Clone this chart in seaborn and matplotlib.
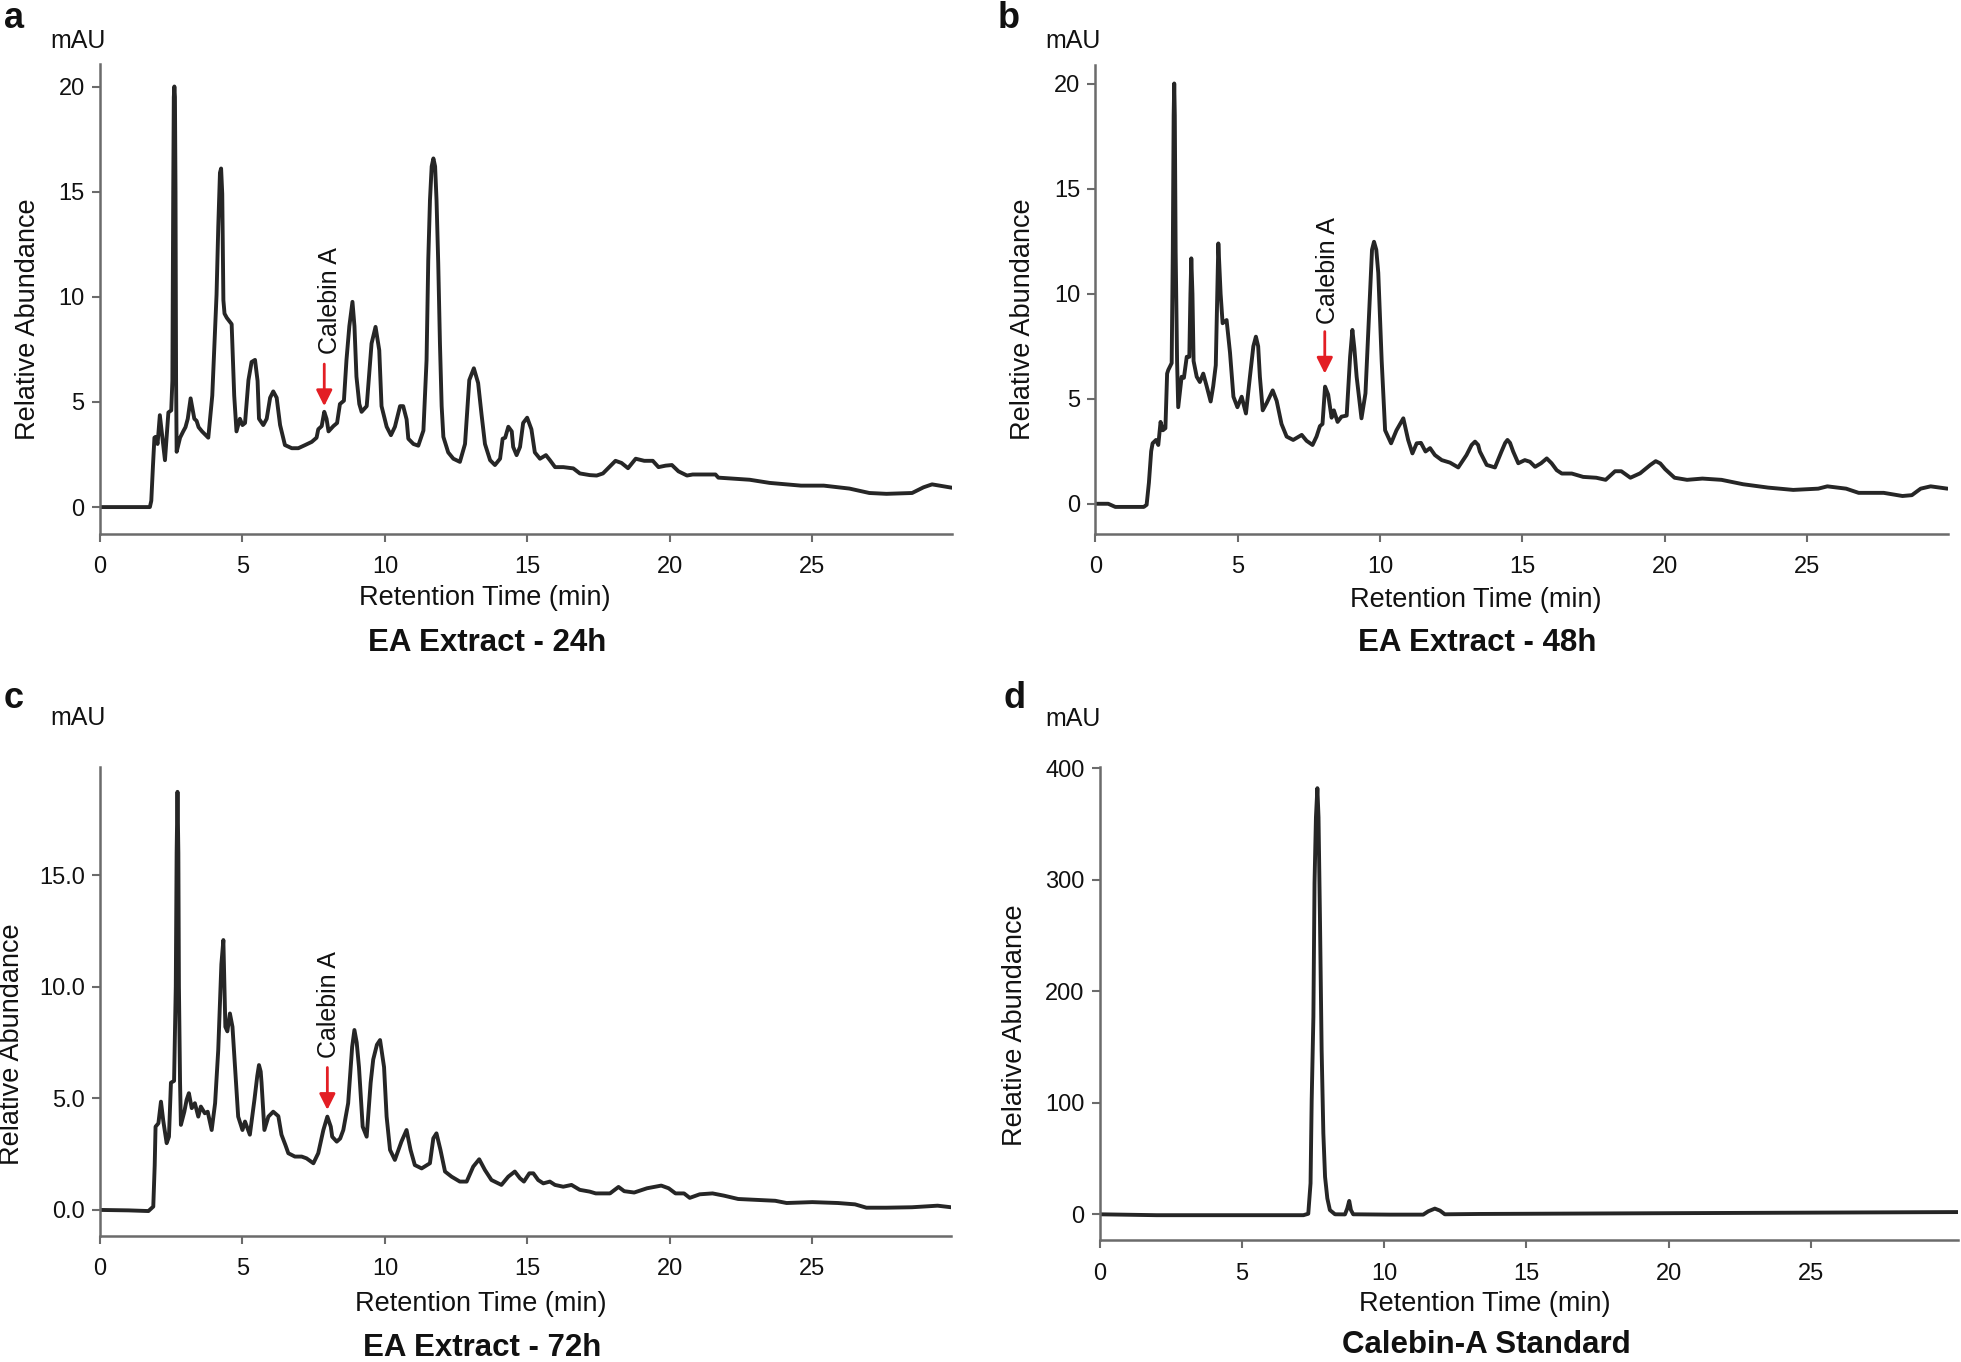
import matplotlib
matplotlib.use("Agg")
import matplotlib.pyplot as plt
import seaborn as sns
import pandas as pd

# ---------------- data ----------------
A_TIME = [0.0, 1.75, 1.80, 1.86, 1.91, 1.95, 2.02, 2.10, 2.28, 2.40, 2.50, 2.54, 2.57, 2.59, 2.61, 2.63,
          2.65, 2.67, 2.69, 2.81, 2.92, 3.00, 3.08, 3.18, 3.31, 3.39, 3.46, 3.58, 3.80, 3.94, 4.02,
          4.09, 4.15, 4.21, 4.25, 4.29, 4.33, 4.37, 4.45, 4.62, 4.71, 4.79, 4.91, 5.00, 5.09, 5.21,
          5.32, 5.44, 5.53, 5.58, 5.73, 5.85, 5.97, 6.08, 6.20, 6.32, 6.49, 6.73, 6.96, 7.20, 7.43,
          7.60, 7.66, 7.78, 7.87, 7.95, 8.02, 8.19, 8.32, 8.42, 8.56, 8.65, 8.75, 8.86, 8.93, 9.00,
          9.10, 9.18, 9.36, 9.53, 9.67, 9.80, 9.88, 10.06, 10.21, 10.35, 10.53, 10.64, 10.76, 10.82,
          11.00, 11.17, 11.35, 11.46, 11.52, 11.58, 11.64, 11.70, 11.76, 11.81, 11.87, 11.93, 11.99,
          12.05, 12.22, 12.40, 12.63, 12.81, 12.96, 13.12, 13.27, 13.39, 13.51, 13.69, 13.86, 14.04,
          14.13, 14.22, 14.33, 14.45, 14.50, 14.62, 14.74, 14.85, 14.99, 15.14, 15.26, 15.44, 15.65,
          15.79, 15.97, 16.26, 16.61, 16.84, 17.19, 17.43, 17.65, 17.87, 18.09, 18.30, 18.53, 18.80,
          19.10, 19.40, 19.60, 19.85, 20.07, 20.30, 20.60, 20.80, 21.60, 21.70, 22.80, 23.50, 24.60,
          25.40, 26.30, 27.00, 27.60, 28.50, 28.90, 29.20, 29.90]
A_ABUND = [0.0, 0.0, 0.3, 2.0, 3.3, 3.34, 3.0, 4.37, 2.23, 4.5, 4.6, 6.0, 15.0, 19.5, 20.0, 19.5,
           15.0, 6.0, 2.63, 3.3, 3.6, 3.8, 4.2, 5.17, 4.2, 4.1, 3.8, 3.6, 3.3, 5.3, 7.8,
           10.1, 13.3, 15.9, 16.1, 14.9, 9.84, 9.2, 9.0, 8.7, 5.3, 3.6, 4.2, 3.9, 4.0, 6.04,
           6.9, 7.0, 6.0, 4.2, 3.9, 4.2, 5.2, 5.5, 5.2, 3.9, 2.95, 2.8, 2.8, 2.95, 3.1,
           3.3, 3.7, 3.85, 4.53, 4.2, 3.6, 3.85, 4.0, 4.9, 5.06, 7.0, 8.6, 9.76, 8.6, 6.2,
           4.9, 4.53, 4.8, 7.78, 8.57, 7.46, 4.8, 3.82, 3.42, 3.82, 4.8, 4.8, 4.17, 3.25,
           3.0, 2.92, 3.64, 6.98, 11.74, 14.6, 16.2, 16.58, 16.2, 14.6, 11.6, 7.78, 4.8,
           3.34, 2.6, 2.3, 2.15, 3.0, 6.04, 6.6, 5.9, 4.4, 3.0, 2.23, 2.0, 2.3,
           3.25, 3.3, 3.82, 3.6, 2.86, 2.47, 2.86, 4.0, 4.25, 3.7, 2.6, 2.3, 2.47,
           2.23, 1.9, 1.9, 1.84, 1.6, 1.52, 1.5, 1.6, 1.9, 2.2, 2.1, 1.85, 2.3,
           2.2, 2.2, 1.9, 1.97, 2.0, 1.7, 1.5, 1.55, 1.55, 1.4, 1.3, 1.15, 1.02,
           1.02, 0.88, 0.67, 0.63, 0.67, 0.94, 1.08, 0.92]

B_TIME = [0.0, 0.45, 0.70, 1.70, 1.80, 1.88, 1.96, 2.01, 2.13, 2.21, 2.29, 2.37, 2.46, 2.52, 2.56,
          2.68, 2.72, 2.75, 2.77, 2.79, 2.82, 2.87, 2.91, 3.03, 3.11, 3.21, 3.30, 3.34, 3.37, 3.41,
          3.45, 3.56, 3.67, 3.79, 3.91, 4.05, 4.14, 4.23, 4.29, 4.32, 4.36, 4.40, 4.47, 4.61, 4.73,
          4.85, 4.99, 5.14, 5.29, 5.43, 5.55, 5.64, 5.72, 5.78, 5.88, 6.02, 6.23, 6.37, 6.54, 6.72,
          6.95, 7.25, 7.42, 7.63, 7.77, 7.89, 7.98, 8.07, 8.18, 8.30, 8.38, 8.51, 8.65, 8.83, 8.95,
          9.03, 9.10, 9.18, 9.35, 9.49, 9.65, 9.72, 9.79, 9.87, 9.94, 10.06, 10.18, 10.39, 10.58,
          10.82, 10.99, 11.14, 11.29, 11.44, 11.60, 11.76, 11.93, 12.17, 12.46, 12.75, 13.04, 13.22,
          13.34, 13.45, 13.51, 13.75, 14.04, 14.27, 14.40, 14.48, 14.57, 14.68, 14.86, 15.09, 15.27,
          15.45, 15.66, 15.86, 16.03, 16.21, 16.39, 16.74, 17.14, 17.60, 17.93, 18.26, 18.48, 18.80,
          19.14, 19.50, 19.69, 19.85, 20.02, 20.35, 20.79, 21.33, 22.00, 22.76, 23.64, 24.52, 25.40,
          25.72, 26.38, 26.82, 27.70, 28.36, 28.69, 29.00, 29.35, 29.94]
B_ABUND = [0.0, 0.0, -0.15, -0.15, -0.05, 1.0, 2.5, 2.88, 3.04, 2.8, 3.9, 3.5, 3.6, 6.2, 6.37,
           6.7, 12.0, 18.5, 20.02, 18.5, 12.0, 6.8, 4.6, 6.05, 6.0, 7.0, 7.0, 10.0, 11.69, 10.0,
           6.8, 6.05, 5.8, 6.2, 5.6, 4.87, 5.6, 6.6, 10.5, 12.4, 11.2, 10.0, 8.6, 8.75, 7.2,
           5.1, 4.6, 5.1, 4.3, 6.05, 7.5, 7.96, 7.5, 6.05, 4.45, 4.8, 5.4, 4.9, 3.8, 3.2,
           3.04, 3.28, 3.0, 2.8, 3.2, 3.7, 3.8, 5.58, 5.2, 4.1, 4.45, 3.9, 4.15, 4.2, 7.0,
           8.28, 7.4, 6.05, 4.07, 5.26, 10.0, 12.1, 12.48, 12.1, 11.0, 6.8, 3.5, 2.88, 3.5,
           4.07, 3.04, 2.4, 2.88, 2.9, 2.49, 2.65, 2.32, 2.08, 1.96, 1.73, 2.32, 2.8,
           2.96, 2.8, 2.49, 1.85, 1.73, 2.49, 2.9, 3.04, 2.9, 2.49, 1.93, 2.08, 2.0,
           1.76, 1.93, 2.16, 1.93, 1.6, 1.44, 1.44, 1.28, 1.24, 1.14, 1.55, 1.55, 1.24,
           1.45, 1.85, 2.03, 1.92, 1.65, 1.24, 1.14, 1.2, 1.14, 0.93, 0.77, 0.66, 0.72,
           0.83, 0.72, 0.52, 0.52, 0.37, 0.41, 0.72, 0.83, 0.72]

C_TIME = [0.0, 1.00, 1.70, 1.87, 1.92, 1.95, 2.05, 2.14, 2.22, 2.34, 2.42, 2.49, 2.60, 2.66, 2.69,
          2.72, 2.75, 2.77, 2.81, 2.84, 2.96, 3.04, 3.12, 3.22, 3.33, 3.45, 3.54, 3.68, 3.78, 3.92,
          4.04, 4.15, 4.26, 4.33, 4.40, 4.47, 4.56, 4.65, 4.74, 4.85, 5.00, 5.09, 5.26, 5.42, 5.52,
          5.58, 5.64, 5.67, 5.77, 5.91, 6.08, 6.26, 6.37, 6.51, 6.61, 6.84, 7.08, 7.25, 7.49, 7.66,
          7.84, 7.98, 8.10, 8.15, 8.31, 8.43, 8.54, 8.71, 8.85, 8.93, 9.01, 9.09, 9.22, 9.36, 9.50,
          9.59, 9.72, 9.83, 9.97, 10.06, 10.18, 10.35, 10.58, 10.76, 10.90, 11.05, 11.29, 11.58,
          11.70, 11.81, 11.95, 12.11, 12.34, 12.63, 12.87, 13.10, 13.31, 13.51, 13.74, 14.09, 14.33,
          14.56, 14.74, 14.88, 15.07, 15.21, 15.38, 15.56, 15.79, 15.97, 16.26, 16.55, 16.84, 17.19,
          17.40, 17.90, 18.20, 18.40, 18.75, 19.20, 19.70, 19.96, 20.20, 20.50, 20.70, 21.05, 21.50,
          21.90, 22.40, 23.70, 24.10, 25.00, 25.90, 26.50, 26.90, 27.60, 28.50, 29.40, 29.87]
C_ABUND = [0.0, -0.02, -0.05, 0.15, 2.0, 3.73, 3.88, 4.85, 4.0, 2.99, 3.28, 5.7, 5.78, 10.0, 16.0,
           18.73, 16.0, 10.0, 5.7, 3.81, 4.4, 4.93, 5.23, 4.56, 4.78, 4.18, 4.63, 4.33, 4.4, 3.58,
           4.78, 7.16, 11.0, 12.09, 8.2, 8.0, 8.8, 8.2, 6.4, 4.18, 3.58, 3.96, 3.37, 4.93, 6.0,
           6.49, 6.2, 5.7, 3.58, 4.18, 4.4, 4.2, 3.37, 2.9, 2.54, 2.39, 2.39, 2.31, 2.09, 2.54,
           3.58, 4.18, 3.73, 3.28, 3.06, 3.2, 3.58, 4.78, 7.3, 8.06, 7.5, 6.4, 3.73, 3.28, 5.7,
           6.74, 7.4, 7.61, 6.4, 4.18, 2.69, 2.24, 3.06, 3.58, 2.69, 2.01, 1.86, 2.09,
           3.21, 3.43, 2.69, 1.72, 1.49, 1.27, 1.27, 1.94, 2.27, 1.79, 1.34, 1.12, 1.49,
           1.72, 1.42, 1.27, 1.64, 1.64, 1.34, 1.19, 1.27, 1.12, 1.04, 1.12, 0.9, 0.82,
           0.74, 0.74, 1.03, 0.84, 0.78, 0.97, 1.09, 0.97, 0.74, 0.74, 0.54, 0.7, 0.74,
           0.64, 0.49, 0.41, 0.31, 0.35, 0.31, 0.25, 0.1, 0.1, 0.12, 0.19, 0.12]

D_TIME = [0.0, 2.0, 5.0, 7.16, 7.33, 7.41, 7.45, 7.51, 7.55, 7.60, 7.65, 7.69, 7.74, 7.80, 7.86,
          7.92, 8.00, 8.09, 8.27, 8.62, 8.70, 8.77, 8.83, 8.91, 10.20, 11.37, 11.55, 11.78, 11.96,
          12.13, 13.36, 20.0, 30.17]
D_ABUND = [0.0, -0.8, -0.8, -0.8, 0.5, 27.8, 102.0, 177.0, 297.0, 356.0, 382.0, 356.0, 267.0, 147.0,
           72.6, 33.6, 14.3, 3.8, 0.0, -0.1, 5.2, 12.0, 3.8, 0.0, -0.3, -0.3, 2.7, 5.1, 3.3,
           0.0, 0.3, 1.0, 2.0]

PANEL_LETTERS = ["a", "b", "c", "d"]
PANEL_TITLES = ["EA Extract - 24h", "EA Extract - 48h", "EA Extract - 72h", "Calebin-A Standard"]
Y_TICKS = [[0, 5, 10, 15, 20], [0, 5, 10, 15, 20], [0.0, 5.0, 10.0, 15.0], [0, 100, 200, 300, 400]]
Y_TICKLABELS = [["0", "5", "10", "15", "20"], ["0", "5", "10", "15", "20"],
                ["0.0", "5.0", "10.0", "15.0"], ["0", "100", "200", "300", "400"]]
X_TICKS = [0, 5, 10, 15, 20, 25]
# Calebin A arrow: x, arrow tail, arrow tip, label x, label bottom
CALEBIN = [(7.87, 6.8, 4.8, 8.07, 7.27), (8.06, 8.2, 6.2, 8.17, 8.58), (7.98, 6.38, 4.48, 8.04, 6.8), None]

# ---------------- style ----------------
sns.set_theme(style="ticks")
plt.rcParams["font.family"] = ["Liberation Sans", "DejaVu Sans"]

W, H = 1961, 1362
fig = plt.figure(figsize=(W / 100, H / 100), dpi=100)

SPINE = "#6b6b6b"
LINE = "#262626"
RED = "#e31e24"

# axes boxes in pixel coordinates: left, top, right, bottom
boxes = [(100, 64, 952, 534), (1095.4, 65, 1948, 534), (100, 766.6, 951, 1235.6), (1099.75, 767, 1958, 1240.4)]
xlims = [(0, 29.9), (0, 29.96), (0, 29.87), (0, 30.17)]
ylims = [(-1.28, 21.07), (-1.44, 20.9), (-1.15, 19.86), (-23.4, 401)]
data = [(A_TIME, A_ABUND), (B_TIME, B_ABUND), (C_TIME, C_ABUND), (D_TIME, D_ABUND)]
xlabel_pos = [(485, 598), (1476, 600), (481, 1304), (1485, 1304)]
ylabel_pos = [(28, 319), (1023.5, 319), (12.5, 1044.5), (1015.4, 1025)]
title_pos = [(487, 643), (1477, 643), (482, 1348), (1486, 1345)]
mau_pos = [(78, 41), (1073, 41), (78, 718), (1073, 719)]
letter_pos = [(14, 19), (1009, 19), (14, 698), (1015, 698)]

for i in range(4):
    l, t, r, b = boxes[i]
    ax = fig.add_axes([l / W, 1 - b / H, (r - l) / W, (b - t) / H])
    df = pd.DataFrame({"time": data[i][0], "abund": data[i][1]})
    sns.lineplot(data=df, x="time", y="abund", ax=ax, color=LINE, linewidth=2.8,
                 estimator=None, sort=False, solid_joinstyle="round", solid_capstyle="round")
    ax.set_xlim(*xlims[i])
    ax.set_ylim(*ylims[i])
    ax.set_xticks(X_TICKS)
    ax.set_xticklabels([str(v) for v in X_TICKS])
    ax.set_yticks(Y_TICKS[i])
    ax.set_yticklabels(Y_TICKLABELS[i])
    for s in ["top", "right"]:
        ax.spines[s].set_visible(False)
    for s in ["left", "bottom"]:
        ax.spines[s].set_color(SPINE)
        ax.spines[s].set_linewidth(1.8)
    ax.tick_params(axis="both", direction="out", length=6, width=1.5, color=SPINE,
                   labelsize=17, labelcolor="#111111")
    ax.tick_params(axis="x", pad=10)
    ax.tick_params(axis="y", pad=5)

    # axis labels
    ax.set_xlabel("Retention Time (min)", fontsize=19.5, color="#111111")
    ax.set_ylabel("Relative Abundance", fontsize=19.5, color="#111111")
    xl, yl = xlabel_pos[i]
    ax.xaxis.set_label_coords((xl - l) / (r - l), (b - yl) / (b - t))
    ax.xaxis.label.set_va("center")
    xl, yl = ylabel_pos[i]
    ax.yaxis.set_label_coords((xl - l) / (r - l), (b - yl) / (b - t))
    ax.yaxis.label.set_va("center")

    # panel title below
    tx, ty = title_pos[i]
    fig.text(tx / W, 1 - ty / H, PANEL_TITLES[i], fontsize=22.5, fontweight="bold",
             ha="center", va="center", color="#111111")
    mx, my = mau_pos[i]
    fig.text(mx / W, 1 - my / H, "mAU", fontsize=18, ha="center", va="center", color="#111111")
    lx, ly = letter_pos[i]
    fig.text(lx / W, 1 - ly / H, PANEL_LETTERS[i], fontsize=26, fontweight="bold",
             ha="center", va="center", color="#111111")

    if CALEBIN[i] is not None:
        axx, tail, tip, tx2, tb = CALEBIN[i]
        ax.annotate("", xy=(axx, tip), xytext=(axx, tail),
                    arrowprops=dict(arrowstyle="-|>", color=RED, lw=2.0, mutation_scale=24,
                                    shrinkA=0, shrinkB=0))
        ax.text(tx2, tb, "Calebin A", rotation=90, ha="center", va="bottom", fontsize=18,
                color="#111111")

fig.savefig("out.png", dpi=100)
